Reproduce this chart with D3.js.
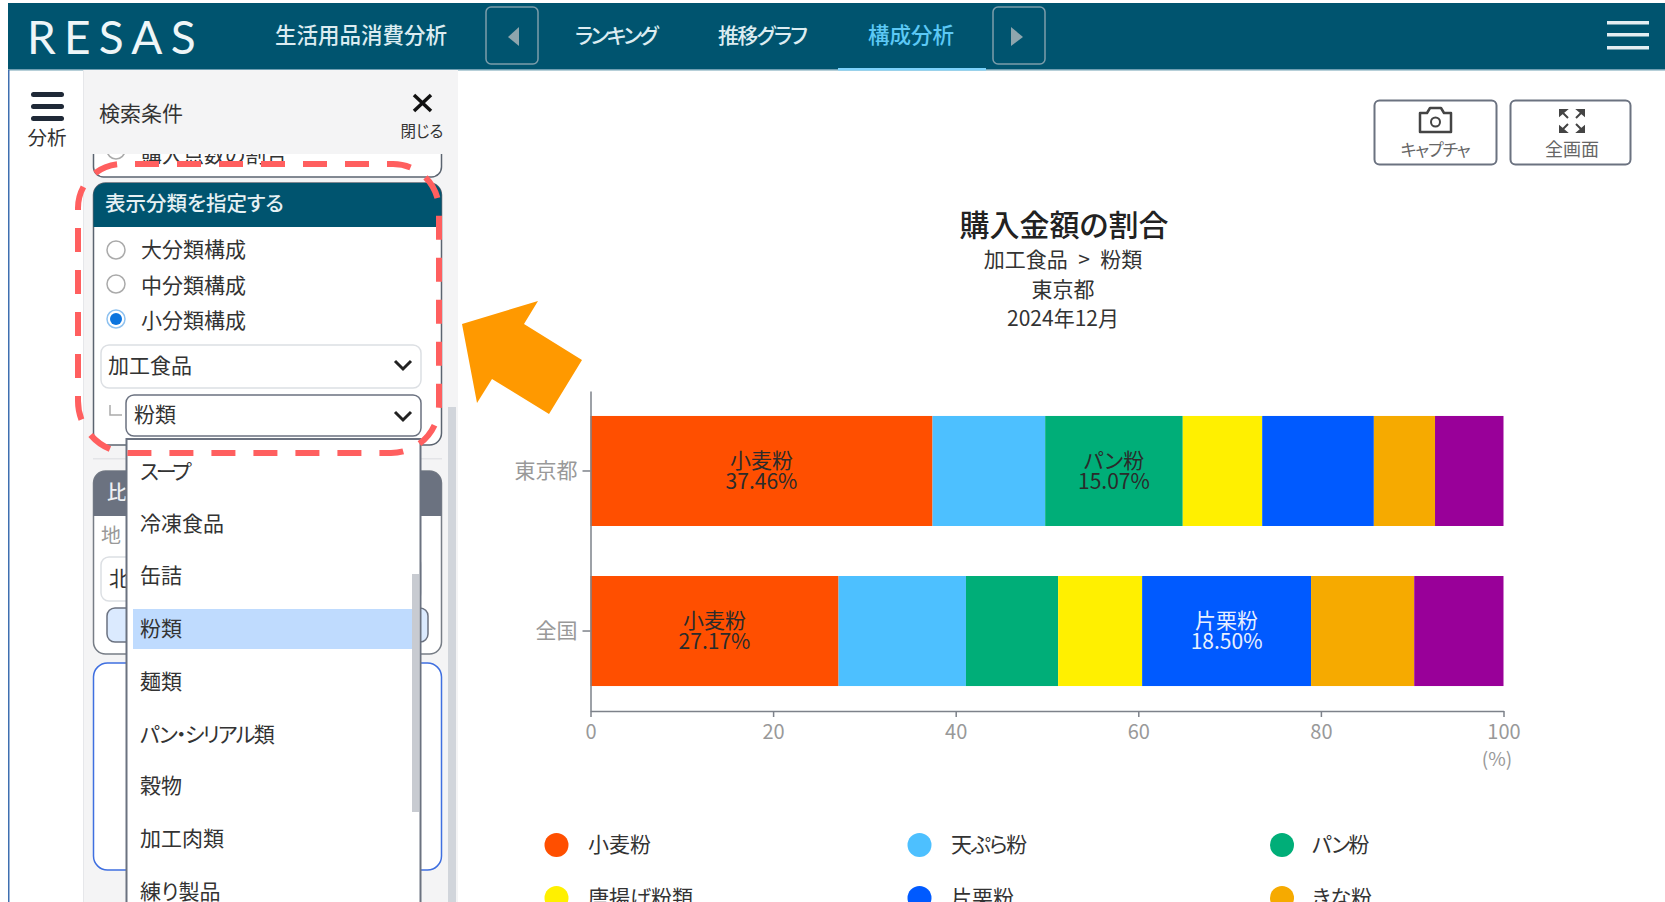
<!DOCTYPE html>
<meta charset="utf-8">
<style>

html, body {
  margin: 0;
  background: #fff;
  overflow: hidden;
}

svg {
  display: block;
}

text {
  font-family: "Noto Sans CJK JP", "Noto Sans", sans-serif;
  font-feature-settings: "palt";
}

.axis text {
  fill: #999;
}

.axis path,
.axis line {
  stroke: #7d828a;
  stroke-width: 1.5px;
}

</style>
<svg width="1665" height="902"></svg>
<script src="https://d3js.org/d3.v7.min.js"></script>
<script>

// chart data
var regions = ["東京都", "全国"];
var flours = ["小麦粉", "天ぷら粉", "パン粉", "唐揚げ粉類", "片栗粉", "きな粉", "その他"];
var tokyoShare = [37.46, 12.34, 15.07, 8.70, 12.23, 6.70, 7.50];
var nationalShare = [27.17, 13.95, 10.10, 9.20, 18.50, 11.30, 9.78];
var xTicks = [0, 20, 40, 60, 80, 100];
var labelledFlours = {"東京都": ["小麦粉", "パン粉"], "全国": ["小麦粉", "片栗粉"]};
var legendFlours = flours.slice(0, 6);

// page text
var titleLines = ["加工食品\u2002>\u2002粉類", "東京都", "2024年12月"];
var navItems = ["生活用品消費分析", "ランキング", "推移グラフ", "構成分析"];
var radioItems = ["大分類構成", "中分類構成", "小分類構成"];
var dropdownItems = ["スープ", "冷凍食品", "缶詰", "粉類", "麺類", "パン・シリアル類", "穀物", "加工肉類", "練り製品"];

var svg = d3.select("svg");

// the kana in the screenshot are set tighter than palt gives
function kanaTrack(s) {
  return {"ランキング": -2.5, "推移グラフ": -1.7, "パン・シリアル類": -1.7, "キャプチャ": -1.2,
          "天ぷら粉": -1.3, "パン粉": -1.5, "スープ": -3}[s] || 0;
}

function rect(parent, x, y, w, h, fill, stroke, r, sw) {
  return parent.append("rect")
      .attr("x", x).attr("y", y)
      .attr("width", w).attr("height", h)
      .attr("rx", r || 0)
      .attr("fill", fill)
      .attr("stroke", stroke || "none")
      .attr("stroke-width", sw || 1.5);
}

function label(parent, s, x, y, size, color, anchor, weight) {
  return parent.append("text")
      .attr("x", x).attr("y", y)
      .attr("dy", "0.36em")
      .attr("font-size", size)
      .attr("fill", color)
      .attr("text-anchor", anchor || "start")
      .attr("font-weight", weight || 400)
      .attr("letter-spacing", kanaTrack(s))
      .text(s);
}

function chevron(parent, cx, cy) {
  parent.append("path")
      .attr("d", d3.line()([[cx - 8, cy - 4], [cx, cy + 4], [cx + 8, cy - 4]]))
      .attr("fill", "none")
      .attr("stroke", "#222")
      .attr("stroke-width", 3);
}

function radio(parent, cx, cy, on) {
  parent.append("circle").attr("cx", cx).attr("cy", cy).attr("r", 9)
      .attr("fill", "#fff")
      .attr("stroke", on ? "#8fc2f0" : "#aaa")
      .attr("stroke-width", 1.5);
  if (on) {
    parent.append("circle").attr("cx", cx).attr("cy", cy).attr("r", 6).attr("fill", "#0b74de");
  }
}

// ---- top bar
var nav = svg.append("g");
rect(nav, 8, 3, 1657, 67, "#00546f");
rect(nav, 8, 69, 1657, 1.5, "#6f9fb2");
label(nav, "RESAS", 27, 37, 46, "#eef6f8")
    .style("font-family", "Lato")
    .attr("letter-spacing", 8.2);
label(nav, navItems[0], 275, 35, 21.5, "#dcecf1", "start", 500);
label(nav, navItems[1], 575, 35, 21, "#dcecf1", "start", 500);
label(nav, navItems[2], 718, 35, 21, "#dcecf1", "start", 500);
label(nav, navItems[3], 868, 35, 21.5, "#5cc8f5", "start", 500);
rect(nav, 838, 68, 148, 2.5, "#7dd3fc");
rect(nav, 486, 7, 52, 57, "none", "#7c9dab", 5);
rect(nav, 993, 7, 52, 57, "none", "#7c9dab", 5);
nav.append("path").attr("d", d3.line()([[519, 27], [519, 46], [508, 37]])).attr("fill", "#8ea5ad");
nav.append("path").attr("d", d3.line()([[1011, 27], [1011, 46], [1023, 37]])).attr("fill", "#8ea5ad");
[23, 35, 48].forEach(function(y) {
  rect(nav, 1607, y - 2, 42, 3.5, "#e5eef2");
});

// ---- left strip
rect(svg, 8, 70, 1.5, 832, "#3f6fb0");
rect(svg, 31, 92, 33, 5, "#1f2937", null, 2.5);
rect(svg, 31, 104, 33, 5, "#1f2937", null, 2.5);
rect(svg, 31, 116, 33, 5, "#1f2937", null, 2.5);
label(svg, "分析", 47, 138, 19.5, "#333", "middle");

// ---- search panel
rect(svg, 83, 70, 375, 832, "#f4f4f5");
rect(svg, 83, 70, 1, 832, "#e6e7ea");

// first card, scrolled under the panel header
rect(svg, 93.5, 130, 348, 47, "#fff", "#5b6470", 10);
radio(svg, 116, 150, false);
label(svg, "購入点数の割合", 141, 154, 21, "#333");

// second card
rect(svg, 93.5, 183, 348, 262, "#fff", "#5b6470", 12);
svg.append("path")
    .attr("d", "M93.5 227V195a12 12 0 0 1 12-12H429.5a12 12 0 0 1 12 12V227Z")
    .attr("fill", "#00546f");
label(svg, "表示分類を指定する", 105, 204, 20.5, "#e6f1f4", "start", 500);
radioItems.forEach(function(d, i) {
  var y = [249, 285, 320][i];
  radio(svg, 116, [250, 284, 319][i], i === 2);
  label(svg, d, 141, y, 21, "#333");
});
rect(svg, 101, 345, 320, 43, "#fff", "#dcdfe3", 8);
label(svg, "加工食品", 108, 365, 21, "#333");
chevron(svg, 403, 365);
svg.append("path").attr("d", "M110 405V415H122").attr("fill", "none").attr("stroke", "#aaa").attr("stroke-width", 1.5);
rect(svg, 126, 395, 295, 41, "#fff", "#6b7280", 8);
label(svg, "粉類", 134, 414, 21, "#333");
chevron(svg, 403, 416);

rect(svg, 93, 458, 349, 1.5, "#e3e4e7");

// third card, mostly under the dropdown
rect(svg, 93.5, 471, 348, 183, "#fff", "#777d86", 12);
svg.append("path")
    .attr("d", "M93.5 516V483a12 12 0 0 1 12-12H429.5a12 12 0 0 1 12 12V516Z")
    .attr("fill", "#6b7280");
label(svg, "比", 107, 493, 20, "#eef0f3", "start", 500);
label(svg, "地", 101, 536, 20, "#999");
rect(svg, 101, 557, 320, 44, "#fff", "#dcdfe3", 8);
label(svg, "北", 109, 578, 21, "#333");
rect(svg, 107, 608, 321, 34, "#dbeafe", "#6b7280", 8);

// fourth card
rect(svg, 93.5, 663, 348, 207, "#fff", "#3f6fe0", 14);

// panel scrollbar
rect(svg, 448, 407, 8, 495, "#d1d5db");

// panel header goes over the cards
rect(svg, 84, 70, 374, 84, "#f4f4f5");
label(svg, "検索条件", 99, 113, 21, "#333");
svg.append("path")
    .attr("d", "M414 95L431 111M431 95L414 111")
    .attr("stroke", "#111")
    .attr("stroke-width", 3.5);
label(svg, "閉じる", 422, 131, 15.5, "#333", "middle");

// ---- open dropdown
rect(svg, 126.5, 439, 294, 470, "#fff", "#6b7280", 0, 2);
rect(svg, 133, 609, 279, 40, "#bfdbfe");
rect(svg, 412, 574, 7, 238, "#c8cbd1");
dropdownItems.forEach(function(d, i) {
  label(svg, d, 140, [471, 523.5, 575.5, 628, 681, 734, 785.5, 838, 891][i], 21, "#333");
});

// ---- buttons at the top right
var btn = svg.append("g");
rect(btn, 1374.5, 100.5, 122, 64, "#fff", "#6b7280", 5, 2);
rect(btn, 1510.5, 100.5, 120, 64, "#fff", "#6b7280", 5, 2);
btn.append("path")
    .attr("d", "M1420 113H1427L1430 108H1441L1444 113H1451V132H1420Z")
    .attr("fill", "none")
    .attr("stroke", "#444")
    .attr("stroke-width", 2.5)
    .attr("stroke-linejoin", "round");
btn.append("circle").attr("cx", 1435.5).attr("cy", 122).attr("r", 4.5)
    .attr("fill", "none").attr("stroke", "#444").attr("stroke-width", 2);
btn.append("path")
    .attr("d", "M1560 110H1566L1560 115ZM1584 110H1578L1584 115ZM1560 132H1566L1560 127ZM1584 132H1578L1584 127ZM1562 112L1568 118M1582 112L1576 118M1562 130L1568 124M1582 130L1576 124")
    .attr("fill", "#444")
    .attr("stroke", "#444")
    .attr("stroke-width", 2);
label(btn, "キャプチャ", 1435, 150, 17, "#666", "middle");
label(btn, "全画面", 1572, 150, 18, "#666", "middle");

// ---- chart
var x = d3.scaleLinear().domain([0, 100]).range([590.5, 1503.5]);
var y = d3.scaleBand().domain(regions).range([391, 711]).paddingInner(0.3125).paddingOuter(0.156);
var z = d3.scaleOrdinal()
    .domain(flours)
    .range(["#ff4f00", "#4dc0ff", "#00ae78", "#fff000", "#005aff", "#f6aa00", "#990099"]);

var rows = regions.map(function(r, i) {
  var row = {region: r};
  flours.forEach(function(f, j) {
    row[f] = (i === 0 ? tokyoShare : nationalShare)[j];
  });
  return row;
});

var series = d3.stack().keys(flours)(rows);

label(svg, "購入金額の割合", 1064, 225, 30, "#222", "middle", 500);
titleLines.forEach(function(d, i) {
  label(svg, d, 1063, [259, 289, 318][i], 21, "#333", "middle");
});

var chart = svg.append("g");

var layer = chart.selectAll(".layer")
  .data(series)
  .enter().append("g")
    .attr("class", "layer")
    .attr("fill", function(d) { return z(d.key); });

layer.selectAll("rect")
  .data(function(d) { return d; })
  .enter().append("rect")
    .attr("x", function(d) { return x(d[0]); })
    .attr("y", function(d) { return y(d.data.region); })
    .attr("width", function(d) { return x(d[1]) - x(d[0]); })
    .attr("height", y.bandwidth());

// name and share are written only on the picked segments
series.forEach(function(s) {
  s.forEach(function(d) {
    var r = d.data.region;
    if (labelledFlours[r].indexOf(s.key) < 0) return;
    var cx = x((d[0] + d[1]) / 2),
        cy = y(r) + y.bandwidth() / 2,
        t = label(chart, null, cx, cy - 10.5, 21, s.key === "片栗粉" ? "#e8f0ff" : "#2b2b2b", "middle");
    t.append("tspan").attr("x", cx).text(s.key);
    t.append("tspan").attr("x", cx).attr("dy", 21).text(d3.format(".2f")(d[1] - d[0]) + "%");
  });
});

var xAxis = chart.append("g")
    .attr("class", "axis")
    .attr("transform", "translate(0,711)")
    .call(d3.axisBottom(x).tickValues(xTicks).tickSize(6).tickSizeOuter(0).tickPadding(8));
xAxis.selectAll("text").attr("font-size", 20).attr("font-family", "Noto Sans CJK JP");

var yAxis = chart.append("g")
    .attr("class", "axis")
    .attr("transform", "translate(" + x(0) + ",0)")
    .call(d3.axisLeft(y).tickSize(8).tickSizeOuter(0).tickPadding(5));
yAxis.selectAll("text").attr("font-size", 21).attr("font-family", "Noto Sans CJK JP");

label(chart, "(%)", 1497, 759, 19, "#999", "middle");

// legend, its last row is cut by the window
var legend = chart.selectAll(".legend")
  .data(legendFlours)
  .enter().append("g")
    .attr("class", "legend");

legend.append("circle")
    .attr("cx", function(d, i) { return [556.5, 919.5, 1282][i % 3]; })
    .attr("cy", function(d, i) { return [845, 898][Math.floor(i / 3)]; })
    .attr("r", 12)
    .attr("fill", function(d) { return z(d); });

legend.append("text")
    .attr("x", function(d, i) { return [588, 951, 1312][i % 3]; })
    .attr("y", function(d, i) { return [844, 897][Math.floor(i / 3)]; })
    .attr("dy", "0.36em")
    .attr("font-size", 21)
    .attr("fill", "#333")
    .attr("letter-spacing", kanaTrack)
    .text(function(d) { return d; });

// ---- annotation over everything, one radius per corner
var left = 78, right = 439, top_ = 164, bottom = 453;
var outline = d3.path();
outline.moveTo(135, top_);
outline.lineTo(right - 46, top_);
outline.arcTo(right, top_, right, top_ + 46, 46);
outline.lineTo(right, bottom - 48);
outline.arcTo(right, bottom, right - 48, bottom, 48);
outline.lineTo(left + 52, bottom);
outline.arcTo(left, bottom, left, bottom - 52, 52);
outline.lineTo(left, top_ + 44);
outline.arcTo(left, top_, left + 44, top_, 44);
outline.lineTo(135, top_);

svg.append("path")
    .attr("d", outline.toString())
    .attr("fill", "none")
    .attr("stroke", "#ff5f5f")
    .attr("stroke-width", 6)
    .attr("stroke-dasharray", "24 18");

svg.append("path")
    .attr("d", d3.line()([[462, 324], [538, 301], [524, 324], [582, 360], [549, 414], [492, 379], [477, 403]]) + "Z")
    .attr("fill", "#ff9900");

</script>
